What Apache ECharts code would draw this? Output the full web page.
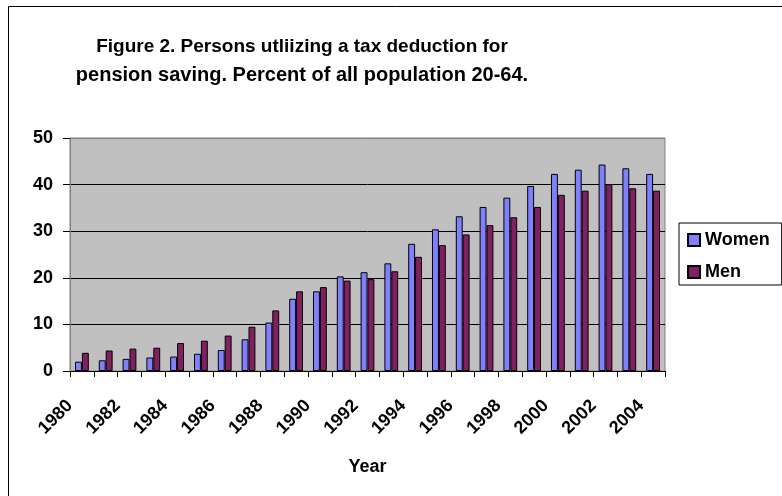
<!DOCTYPE html>
<html><head><meta charset="utf-8">
<script src="https://cdn.jsdelivr.net/npm/echarts@6/dist/echarts.min.js"></script>
<style>html,body{margin:0;padding:0;background:#fff}#c{width:782px;height:496px}</style>
</head><body><div id="c"></div>
<script>
var years = ['1980','1981','1982','1983','1984','1985','1986','1987','1988','1989','1990','1991','1992','1993','1994','1995','1996','1997','1998','1999','2000','2001','2002','2003','2004'];
var women = [2.0,2.3,2.6,2.9,3.1,3.7,4.5,6.8,10.4,15.5,17.1,20.3,21.2,23.1,27.3,30.4,33.2,35.2,37.2,39.7,42.3,43.2,44.3,43.5,42.3];
var men   = [3.9,4.4,4.8,5.0,6.0,6.5,7.6,9.5,13.0,17.1,18.0,19.4,19.7,21.4,24.5,27.0,29.3,31.3,33.0,35.2,37.8,38.7,40.1,39.2,38.7];
var titleLines = ['Figure 2. Persons utliizing a tax deduction for','pension saving. Percent of all population 20-64.'];
var F = 'Arial, "Liberation Sans", Helvetica, sans-serif';
var chart = echarts.init(document.getElementById('c'), null, {renderer:'canvas'});
chart.setOption({
  animation:false,
  backgroundColor:'#fff',
  title:[
    {text:titleLines[0], left:302, top:37, textAlign:'center', padding:0,
      textStyle:{fontFamily:F, fontWeight:'bold', fontSize:19, color:'#000'}},
    {text:titleLines[1], left:302, top:65, textAlign:'center', padding:0,
      textStyle:{fontFamily:F, fontWeight:'bold', fontSize:20, color:'#000'}}
  ],
  graphic:[{type:'rect', shape:{x:8.5,y:6.5,width:800,height:600}, style:{fill:null, stroke:'#000', lineWidth:1}, silent:true}],
  legend:{left:679, top:223, orient:'vertical', itemWidth:12, itemHeight:12, itemGap:14,
    padding:[8,12,4,8], borderColor:'#000', borderWidth:1, backgroundColor:'#fff',
    textStyle:{fontFamily:F, fontWeight:'bold', fontSize:18, color:'#000', lineHeight:18},
    data:[{name:'Women', icon:'rect'},{name:'Men', icon:'rect'}]},
  grid:{left:70, right:117, top:138, bottom:125, show:true, backgroundColor:'#C0C0C0', borderWidth:1, borderColor:'#808080'},
  xAxis:{type:'category', data:years, name:'Year', nameLocation:'middle', nameGap:87,
    nameTextStyle:{fontFamily:F, fontWeight:'bold', fontSize:18, color:'#000'},
    axisLine:{lineStyle:{color:'#000', width:1}},
    axisTick:{show:true, interval:0, length:6, lineStyle:{color:'#000'}},
    axisLabel:{interval:1, rotate:45, fontFamily:F, fontWeight:'bold', fontSize:18, color:'#000', margin:20, padding:[0,17,0,0]}},
  yAxis:{type:'value', min:0, max:50, interval:10,
    axisLine:{show:true, lineStyle:{color:'#808080', width:1}},
    axisTick:{show:true, length:7, lineStyle:{color:'#000'}},
    splitLine:{lineStyle:{color:['#000','#000','#000','#000','#000','#808080'], width:1}},
    axisLabel:{fontFamily:F, fontWeight:'bold', fontSize:18, color:'#000', margin:17, padding:[6,0,0,0]}},
  series:[
    {name:'Women', type:'bar', data:women, barGap:'0%', barCategoryGap:'42%',
      itemStyle:{color:'#8080FF', borderColor:'#000', borderWidth:1}},
    {name:'Men', type:'bar', data:men,
      itemStyle:{color:'#802060', borderColor:'#000', borderWidth:1}}
  ]
});
</script></body></html>
